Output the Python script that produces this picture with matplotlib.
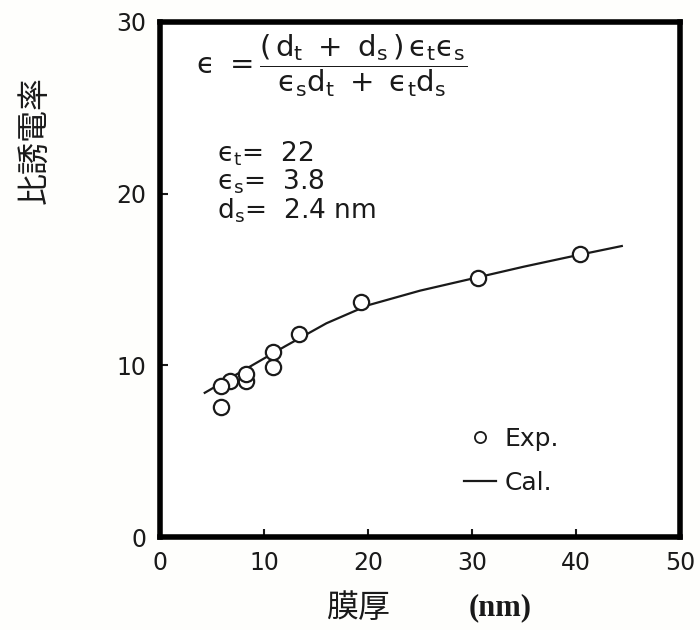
#!/usr/bin/env python3

import matplotlib
matplotlib.use('Agg')
import matplotlib.pyplot as plt
from matplotlib.lines import Line2D

plt.rcParams['font.family'] = ['DejaVu Sans', 'Noto Sans CJK JP']
plt.rcParams['mathtext.fontset'] = 'dejavusans'

# --- measured points (film thickness nm, relative permittivity) ---
exp_x = [6.7, 5.9, 5.9, 8.3, 8.3, 10.9, 10.9, 13.4, 19.3, 30.6, 40.4]
exp_y = [9.1, 8.8, 7.6, 9.1, 9.5, 9.9, 10.8, 11.8, 13.7, 15.1, 16.5]

# --- calculated curve ---
cal_x = [4.3, 9.0, 12.0, 16.0, 20.0, 25.0, 30.0, 35.0, 40.0, 44.4]
cal_y = [8.4, 10.05, 11.1, 12.45, 13.5, 14.35, 15.05, 15.75, 16.4, 16.95]

x_ticks = [0, 10, 20, 30, 40, 50]
y_ticks = [0, 10, 20, 30]

ink = '#1a1a1a'
eps = '\u03f5'   # lunate epsilon

fig = plt.figure(figsize=(7, 6.3), dpi=100)
fig.patch.set_facecolor('#fefefc')
ax = fig.add_axes([0.2286, 0.1476, 0.7429, 0.8175])

ax.plot(cal_x, cal_y, color=ink, lw=1.6, zorder=2)
ax.plot(exp_x, exp_y, ls='none', marker='o', ms=11, mfc='white', mec=ink, mew=1.6, zorder=3)

ax.set_xlim(0, 50)
ax.set_ylim(0, 30)
ax.set_xticks(x_ticks)
ax.set_yticks(y_ticks)
ax.tick_params(direction='in', length=6, width=1.5, colors=ink, labelsize=17)
ax.tick_params(axis='y', pad=10)
ax.tick_params(axis='x', pad=10)
for s in ax.spines.values():
    s.set_linewidth(4)
    s.set_color('black')

# formula and parameters
E = r'\mathrm{' + eps + '}'
num = r'(\,\mathrm{d}_\mathrm{t}\ +\ \mathrm{d}_\mathrm{s}\,)\,' + E + r'_\mathrm{t}' + E + r'_\mathrm{s}'
den = E + r'_\mathrm{s}\mathrm{d}_\mathrm{t}\ +\ ' + E + r'_\mathrm{t}\mathrm{d}_\mathrm{s}'
ax.text(0.07, 0.915, r'$' + E + r'\ =\dfrac{' + num + '}{' + den + '}$',
        transform=ax.transAxes, fontsize=21, color=ink, va='center', ha='left')
ax.text(0.11, 0.745, r'$' + E + r'_\mathrm{t}$=  22', transform=ax.transAxes,
        fontsize=19, color=ink, va='center')
ax.text(0.11, 0.69, r'$' + E + r'_\mathrm{s}$=  3.8', transform=ax.transAxes,
        fontsize=19, color=ink, va='center')
ax.text(0.11, 0.633, r'$\mathrm{d_s}$=  2.4 nm', transform=ax.transAxes,
        fontsize=19, color=ink, va='center')

# legend
handles = [Line2D([], [], ls='none', marker='o', ms=8, mfc='white', mec=ink, mew=1.3),
           Line2D([], [], color=ink, lw=1.6)]
ax.legend(handles, ['Exp.', 'Cal.'], loc='center left', bbox_to_anchor=(0.56, 0.148),
          frameon=False, fontsize=18, handlelength=1.3, handletextpad=0.35,
          labelspacing=0.8, borderpad=0, labelcolor=ink)

# axis titles
fig.text(35 / 700, 1 - 140 / 630, '比誘電率', rotation=90, fontsize=23,
         family=['Noto Sans CJK JP'], color=ink, ha='center', va='center')
fig.text(358 / 700, 1 - 608 / 630, '膜厚', fontsize=23,
         family=['Noto Sans CJK JP'], color=ink, ha='center', va='center')
fig.text(500 / 700, 1 - 608 / 630, '(nm)', fontsize=22,
         family=['Liberation Serif'], weight='bold', color=ink, ha='center', va='center')

fig.savefig('out.png', dpi=100, facecolor=fig.get_facecolor())
